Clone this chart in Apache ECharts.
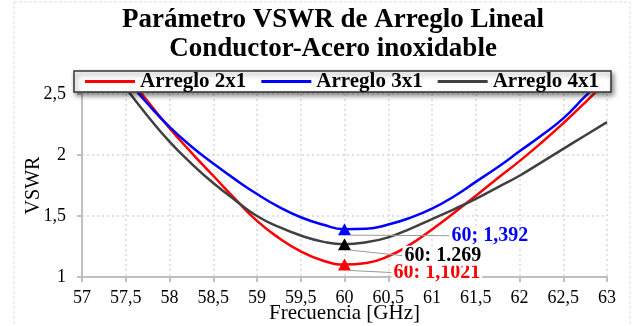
<!DOCTYPE html>
<html>
<head>
<meta charset="utf-8">
<script src="https://cdn.jsdelivr.net/npm/echarts@6/dist/echarts.min.js"></script>
<style>
html,body{margin:0;padding:0;background:#fff;}
#chart{width:637px;height:326px;}
</style>
</head>
<body>
<div id="chart"></div>
<script>
var freq = [57.5,57.75,58,58.25,58.5,58.75,59,59.25,59.5,59.75,60,60.25,60.5,60.75,61,61.25,61.5,61.75,62,62.25,62.5,62.75,63];
var vswr2x1 = [2.68,2.44,2.22,2.02,1.83,1.64,1.46,1.32,1.21,1.135,1.1021,1.115,1.17,1.265,1.39,1.525,1.665,1.81,1.95,2.10,2.26,2.43,2.61];
var vswr3x1 = [2.63,2.42,2.23,2.07,1.93,1.80,1.68,1.575,1.49,1.43,1.392,1.395,1.43,1.485,1.56,1.66,1.78,1.90,2.03,2.16,2.30,2.48,2.65];
var vswr4x1 = [2.55,2.32,2.11,1.93,1.77,1.63,1.50,1.41,1.34,1.29,1.269,1.285,1.325,1.395,1.475,1.555,1.64,1.735,1.83,1.94,2.05,2.16,2.27];
var seriesNames = ['Arreglo 2x1','Arreglo 3x1','Arreglo 4x1'];
var seriesColors = ['#ff0000','#0000ff','#404040'];
var markerX = 60;
var markerY = [1.1021, 1.392, 1.269];
var markerLabels = ['60: 1,1021','60; 1,392','60: 1.269'];
var markerColors = ['#ff0000','#0000ff','#000000'];
var titleLines = ['Parámetro VSWR de Arreglo Lineal','Conductor-Acero inoxidable'];

function pairs(ys){ return freq.map(function(x,i){ return [x, ys[i]]; }); }
var allY = [vswr2x1, vswr3x1, vswr4x1];
var SERIF = '"Liberation Serif","Times New Roman",serif';
function comma(v){ return String(v).replace('.', ','); }

var series = [];
for (var i = 0; i < 3; i++) {
  series.push({
    name: seriesNames[i], type: 'line', smooth: 0.5, showSymbol: false,
    data: pairs(allY[i]), clip: true,
    lineStyle: {color: seriesColors[i], width: 2.5},
    itemStyle: {color: seriesColors[i]}, z: 3
  });
}
var offs = [[35.5, 8],[93.5, 6.5],[46.5, 11.5]];
for (var j = 0; j < 3; j++) {
  series.push({
    name: 'm' + j, type: 'scatter', symbol: 'triangle', symbolSize: [13, 12],
    data: [[markerX, markerY[j]]],
    itemStyle: {color: markerColors[j], opacity: 1},
    label: {show: true, position: 'right', formatter: markerLabels[j], opacity: 1,
      fontFamily: SERIF, fontWeight: 'bold', fontSize: 20, color: markerColors[j],
      backgroundColor: '#fff', padding: [0, 2]},
    labelLayout: {dx: offs[j][0], dy: offs[j][1]},
    labelLine: {show: true, lineStyle: {color: '#999', width: 1, opacity: 1}},
    z: 5
  });
}

var chart = echarts.init(document.getElementById('chart'), null, {renderer: 'canvas'});
chart.setOption({
  animation: false,
  backgroundColor: '#fff',
  graphic: [{type: 'rect', shape: {x: 14, y: 2, width: 616, height: 340}, silent: true, z: -10,
    style: {fill: 'none', stroke: '#dcdcdc', lineWidth: 1, lineDash: [3, 2]}}],
  title: {text: titleLines.join('\n'), left: 333, top: 6, textAlign: 'center', padding: 0,
    textStyle: {fontFamily: SERIF, fontWeight: 'bold', fontSize: 27, lineHeight: 29, color: '#000'}},
  legend: {data: seriesNames, left: 74, top: 71, icon: 'rect', itemWidth: 50, itemHeight: 3, itemGap: 15,
    padding: [0, 12, 0, 11], borderColor: '#333', borderWidth: 1.5, backgroundColor: '#fff',
    shadowColor: 'rgba(0,0,0,0.45)', shadowBlur: 5, shadowOffsetX: 2, shadowOffsetY: 3,
    textStyle: {fontFamily: SERIF, fontWeight: 'bold', fontSize: 21, color: '#000', lineHeight: 20}},
  grid: {left: 82, right: 30, top: 94, bottom: 49, containLabel: false, outerBoundsMode: 'none'},
  xAxis: {type: 'value', min: 57, max: 63, interval: 0.5,
    name: 'Frecuencia [GHz]', nameLocation: 'middle', nameGap: 26, nameMoveOverlap: false,
    nameTextStyle: {fontFamily: SERIF, fontSize: 21, color: '#000'},
    axisLine: {lineStyle: {color: '#bfbfbf', width: 2}},
    axisTick: {show: true, length: 5, lineStyle: {color: '#bfbfbf', width: 2}},
    axisLabel: {formatter: comma, fontFamily: SERIF, fontSize: 18, color: '#000', margin: 12},
    splitLine: {show: true, lineStyle: {color: '#d9d9d9', width: 1.5, type: [2, 3]}}},
  yAxis: {type: 'value', min: 1, max: 2.5, interval: 0.5,
    name: 'VSWR', nameLocation: 'middle', nameGap: 38, nameRotate: 90, nameMoveOverlap: false,
    nameTextStyle: {fontFamily: SERIF, fontSize: 20, color: '#000'},
    axisLine: {show: true, lineStyle: {color: '#bfbfbf', width: 2}},
    axisTick: {show: true, length: 5, lineStyle: {color: '#bfbfbf', width: 2}},
    axisLabel: {formatter: comma, fontFamily: SERIF, fontSize: 18, color: '#000', margin: 16},
    splitLine: {show: true, lineStyle: {color: '#d9d9d9', width: 1.5, type: [2, 3]}}},
  series: series
});
</script>
</body>
</html>
